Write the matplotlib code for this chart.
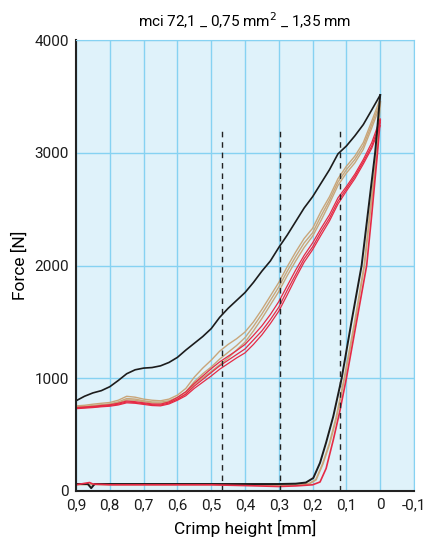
import matplotlib
matplotlib.use('Agg')
import matplotlib.pyplot as plt
from matplotlib.ticker import FuncFormatter

plt.rcParams['font.family'] = ['Roboto', 'DejaVu Sans']

title = 'mci 72,1 _ 0,75 mm$^2$ _ 1,35 mm'
x_label = 'Crimp height [mm]'
y_label = 'Force [N]'

# loading branch, crimp height 0.9 -> 0.0 mm
x_load = [0.9, 0.875, 0.85, 0.825, 0.8, 0.775, 0.75, 0.725, 0.7, 0.675, 0.65, 0.625,
          0.6, 0.575, 0.55, 0.525, 0.5, 0.475, 0.45, 0.425, 0.4, 0.375, 0.35, 0.325,
          0.3, 0.275, 0.25, 0.225, 0.2, 0.175, 0.15, 0.125, 0.1, 0.075, 0.05, 0.025, 0.0]

black_load = [800, 840, 870, 890, 925, 980, 1040, 1075, 1090, 1095, 1110, 1140,
              1185, 1250, 1310, 1370, 1440, 1540, 1620, 1690, 1760, 1850, 1950, 2040,
              2160, 2270, 2390, 2510, 2610, 2730, 2850, 2990, 3060, 3150, 3250, 3380, 3512]

tan_a = [745, 750, 758, 765, 772, 790, 820, 815, 800, 790, 788, 800,
         830, 880, 970, 1040, 1100, 1170, 1230, 1290, 1360, 1460, 1570, 1690,
         1810, 1950, 2080, 2200, 2290, 2440, 2580, 2740, 2850, 2940, 3060, 3250, 3450]
tan_b = [755, 760, 770, 778, 785, 805, 840, 832, 815, 805, 800, 815,
         850, 910, 1010, 1090, 1160, 1240, 1300, 1350, 1410, 1500, 1610, 1730,
         1850, 1990, 2120, 2240, 2330, 2480, 2610, 2770, 2880, 2970, 3090, 3280, 3480]
tan_c = [740, 745, 752, 760, 768, 782, 808, 805, 792, 782, 778, 790,
         815, 860, 945, 1005, 1060, 1120, 1180, 1250, 1320, 1420, 1530, 1650,
         1770, 1910, 2040, 2160, 2260, 2400, 2550, 2710, 2820, 2910, 3030, 3220, 3420]

red_a = [735, 740, 745, 752, 758, 770, 790, 785, 775, 765, 762, 780,
         815, 860, 930, 990, 1050, 1110, 1160, 1210, 1260, 1340, 1420, 1520,
         1630, 1780, 1920, 2060, 2165, 2300, 2420, 2570, 2680, 2790, 2920, 3060, 3270]
red_b = [740, 745, 750, 758, 765, 778, 798, 792, 782, 772, 770, 790,
         830, 880, 955, 1020, 1085, 1145, 1195, 1245, 1300, 1380, 1465, 1565,
         1680, 1820, 1960, 2090, 2200, 2330, 2450, 2600, 2700, 2810, 2940, 3090, 3300]
red_c = [730, 735, 740, 747, 752, 763, 782, 778, 768, 758, 755, 772,
         805, 845, 910, 965, 1020, 1080, 1130, 1180, 1225, 1300, 1385, 1485,
         1595, 1740, 1890, 2030, 2140, 2270, 2395, 2545, 2660, 2770, 2900, 3040, 3240]

# unloading branch, back from 0.0 mm
black_unload_x = [0.0, 0.015, 0.035, 0.055, 0.085, 0.114, 0.139, 0.16, 0.178, 0.198, 0.22,
                  0.25, 0.3, 0.4, 0.5, 0.6, 0.7, 0.8, 0.845, 0.855, 0.865, 0.9]
black_unload_y = [3512, 3000, 2500, 2000, 1500, 1000, 660, 430, 250, 115, 75,
                  65, 62, 62, 62, 62, 62, 62, 62, 25, 62, 62]
tan_unload_x = [0.0, 0.01, 0.03, 0.047, 0.075, 0.106, 0.13, 0.15, 0.17, 0.19, 0.21,
                0.25, 0.3, 0.4, 0.5, 0.6, 0.7, 0.8, 0.9]
tan_unload_y = [3450, 3000, 2470, 2000, 1500, 1000, 650, 420, 240, 100, 65,
                55, 50, 55, 58, 58, 58, 58, 58]
red_unload_x = [0.0, 0.008, 0.025, 0.04, 0.07, 0.1, 0.12, 0.139, 0.16, 0.178, 0.2,
                0.25, 0.3, 0.4, 0.5, 0.6, 0.7, 0.8, 0.85, 0.86, 0.9]
red_unload_y = [3290, 3000, 2450, 2000, 1500, 1000, 700, 450, 200, 80, 55,
                45, 40, 48, 55, 55, 55, 55, 62, 75, 55]

dash_x = [0.468, 0.296, 0.118]
dash_top = 3200

x_ticks = [0.9, 0.8, 0.7, 0.6, 0.5, 0.4, 0.3, 0.2, 0.1, 0.0, -0.1]
y_ticks = [0, 1000, 2000, 3000, 4000]

c_black = '#1c1c1c'
c_tan = '#c9a67a'
c_red = '#e62a45'
c_grid = '#86d2f2'

fig = plt.figure(figsize=(4.25, 5.39), dpi=100)
ax = fig.add_axes([76 / 425, 1 - 491 / 539, 338 / 425, 451 / 539])
ax.set_facecolor('#dff2fa')

for yy in [tan_a, tan_b, tan_c]:
    ax.plot(x_load, yy, color=c_tan, lw=1.0)
ax.plot(tan_unload_x, tan_unload_y, color=c_tan, lw=1.4)
for yy in [red_a, red_b, red_c]:
    ax.plot(x_load, yy, color=c_red, lw=0.9)
ax.plot(black_unload_x, black_unload_y, color=c_black, lw=1.4)
ax.plot(red_unload_x, red_unload_y, color=c_red, lw=1.2)
ax.plot(x_load, black_load, color=c_black, lw=1.2)

for xd in dash_x:
    ax.plot([xd, xd], [0, dash_top], color='#222222', lw=1, ls=(0, (4, 3.5)))

ax.set_xlim(0.9, -0.1)
ax.set_ylim(0, 4000)
ax.set_xticks(x_ticks)
ax.set_yticks(y_ticks)
ax.xaxis.set_major_formatter(FuncFormatter(lambda v, p: ('%g' % round(v, 1)).replace('.', ',')))
ax.yaxis.set_major_formatter(FuncFormatter(lambda v, p: '%d' % v))
ax.tick_params(length=0, labelsize=11, pad=5, colors='#1c1c1c')
ax.grid(True, color=c_grid, lw=1)
ax.set_axisbelow(True)

for s in ['top', 'right']:
    ax.spines[s].set_color(c_grid)
for s in ['left', 'bottom']:
    ax.spines[s].set_color('#222222')
    ax.spines[s].set_linewidth(1.5)

ax.set_title(title, fontsize=11, pad=9)
ax.set_xlabel(x_label, fontsize=12.5, labelpad=6)
ax.set_ylabel(y_label, fontsize=12.5, labelpad=5)

fig.savefig('out.png', dpi=100)
